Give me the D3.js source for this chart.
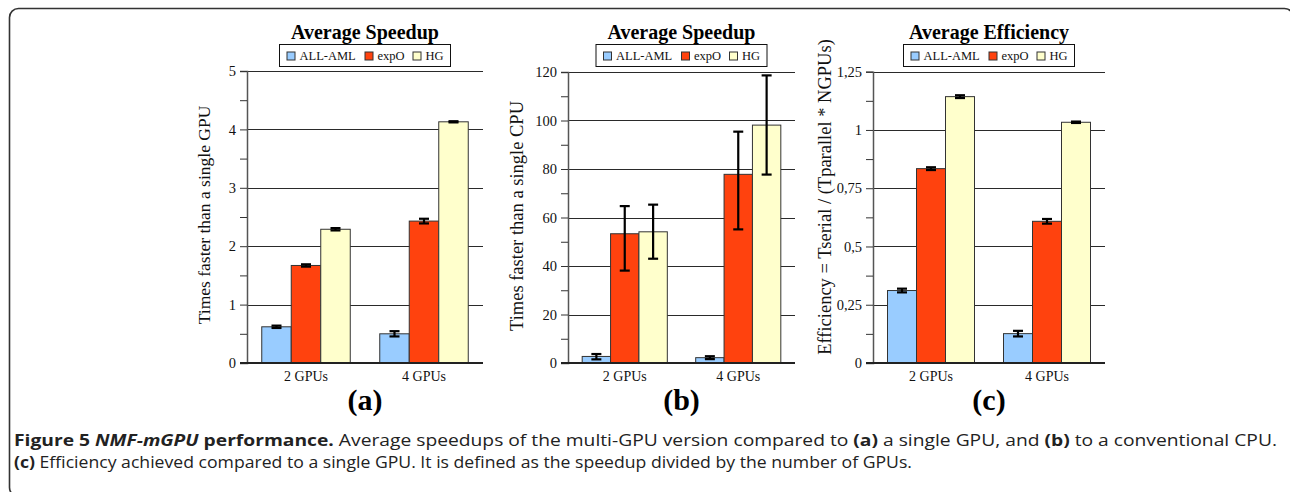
<!DOCTYPE html>
<html>
<head>
<meta charset="utf-8">
<script src="https://cdn.jsdelivr.net/npm/d3@7"></script>
<style>
  html, body { margin: 0; padding: 0; background: #fff; }
  svg { display: block; }
</style>
</head>
<body>
<div id="chart"></div>
<script>
// categories and series
var groups = ['2 GPUs', '4 GPUs']
var seriesNames = ['ALL-AML', 'expO', 'HG']
var seriesColors = ['#99ccff', '#ff420e', '#ffffcc']

// (a) speedup vs a single GPU
var gpuAllAml = [0.62, 0.50]
var gpuAllAmlErr = [0.02, 0.045]
var gpuExpO = [1.67, 2.43]
var gpuExpOErr = [0.02, 0.04]
var gpuHg = [2.29, 4.13]
var gpuHgErr = [0.02, 0.01]
var gpuTicks = [0, 1, 2, 3, 4, 5]
var gpuTickLabels = ['0', '1', '2', '3', '4', '5']

// (b) speedup vs a CPU (error bars are drawn a little uneven in the source)
var cpuAllAml = [2.7, 2.2]
var cpuAllAmlErrLo = [1.2, 0.6]
var cpuAllAmlErrHi = [1.0, 0.6]
var cpuExpO = [53.3, 77.8]
var cpuExpOErrLo = [15.2, 22.7]
var cpuExpOErrHi = [11.4, 17.6]
var cpuHg = [54.1, 98.1]
var cpuHgErrLo = [11.1, 20.4]
var cpuHgErrHi = [11.2, 20.5]
var cpuTicks = [0, 20, 40, 60, 80, 100, 120]
var cpuTickLabels = ['0', '20', '40', '60', '80', '100', '120']

// (c) efficiency
var effAllAml = [0.311, 0.126]
var effAllAmlErr = [0.008, 0.012]
var effExpO = [0.834, 0.608]
var effExpOErr = [0.006, 0.01]
var effHg = [1.143, 1.033]
var effHgErr = [0.006, 0.003]
var effTicks = [0, 0.25, 0.5, 0.75, 1, 1.25]
var effTickLabels = ['0', '0,25', '0,5', '0,75', '1', '1,25']

var width = 1290
var height = 492
var serif = '"Liberation Serif", "Times New Roman", serif'
var sans = '"Open Sans", "Noto Sans", sans-serif'

var svg = d3.select('#chart').append('svg')
  .attr('width', width)
  .attr('height', height)

// rounded frame round the whole figure
svg.append('rect')
  .attr('x', 9.5).attr('y', 8.5)
  .attr('width', 1284).attr('height', 488)
  .attr('rx', 9).attr('ry', 9)
  .attr('fill', 'none')
  .attr('stroke', '#333')
  .attr('stroke-width', 1.6)

function buildRows(vals, lo, hi) {
  // one row per group, one entry per series
  return groups.map(function(g, gi) {
    return seriesNames.map(function(s, si) {
      return { group: g, series: s, si: si, value: vals[si][gi], lo: lo[si][gi], hi: hi[si][gi] }
    })
  })
}

function drawPanel(opt) {
  var g = svg.append('g')

  var y = d3.scaleLinear().domain([0, opt.max]).range([opt.bottom, opt.top])
  var x0 = d3.scaleBand().domain(groups).range([opt.left, opt.right])
    .paddingInner(0.25).paddingOuter(0.125)
  var x1 = d3.scaleBand().domain(seriesNames).range([0, x0.bandwidth()])

  // grid lines
  g.selectAll('.grid').data(opt.ticks.filter(function(d) { return d > 0 }))
    .enter().append('line')
    .attr('x1', opt.left).attr('x2', opt.right)
    .attr('y1', function(d) { return Math.round(y(d)) + 0.5 })
    .attr('y2', function(d) { return Math.round(y(d)) + 0.5 })
    .attr('stroke', '#2a2a2a').attr('stroke-width', 1)

  // y axis with minor ticks
  var axis = d3.axisLeft(y)
    .tickValues(opt.ticks)
    .tickFormat(function(d, i) { return opt.tickLabels[i] })
    .tickSize(7).tickPadding(4)
  var ax = g.append('g').attr('transform', 'translate(' + opt.left + ',0)').call(axis)
  ax.attr('font-family', serif)
  ax.select('.domain').attr('stroke', '#555').attr('stroke-width', 1.5)
  ax.selectAll('.tick line').attr('stroke', '#333')
  ax.selectAll('.tick text')
    .attr('font-family', serif).attr('font-size', 14.5).attr('fill', '#111')

  var minor = d3.axisLeft(y).tickValues(opt.minor).tickFormat('').tickSize(7)
  var mx = g.append('g').attr('transform', 'translate(' + opt.left + ',0)').call(minor)
  mx.select('.domain').remove()
  mx.selectAll('.tick line').attr('stroke', '#333')

  // bars
  var rows = buildRows(opt.values, opt.lo, opt.hi)
  var grp = g.selectAll('.grp').data(rows).enter().append('g')
    .attr('transform', function(d, i) { return 'translate(' + x0(groups[i]) + ',0)' })

  grp.selectAll('rect').data(function(d) { return d }).enter().append('rect')
    .attr('x', function(d) { return x1(d.series) })
    .attr('width', x1.bandwidth())
    .attr('y', function(d) { return y(d.value) })
    .attr('height', function(d) { return y(0) - y(d.value) })
    .attr('fill', function(d) { return seriesColors[d.si] })
    .attr('stroke', '#333').attr('stroke-width', 1)

  // error bars
  var eb = grp.selectAll('.err').data(function(d) { return d }).enter().append('g')
  var cx = function(d) { return x1(d.series) + x1.bandwidth() / 2 }
  eb.append('line')
    .attr('x1', cx).attr('x2', cx)
    .attr('y1', function(d) { return y(d.value + d.hi) })
    .attr('y2', function(d) { return y(d.value - d.lo) })
    .attr('stroke', '#000').attr('stroke-width', 2.2)
  ;['hi', 'lo'].forEach(function(k) {
    eb.append('line')
      .attr('x1', function(d) { return cx(d) - 5 }).attr('x2', function(d) { return cx(d) + 5 })
      .attr('y1', function(d) { return y(k === 'hi' ? d.value + d.hi : d.value - d.lo) })
      .attr('y2', function(d) { return y(k === 'hi' ? d.value + d.hi : d.value - d.lo) })
      .attr('stroke', '#000').attr('stroke-width', 2.2)
  })

  // base line at zero
  g.append('line')
    .attr('x1', opt.left - 7).attr('x2', opt.right)
    .attr('y1', y(0)).attr('y2', y(0))
    .attr('stroke', '#222').attr('stroke-width', 1.8)

  // group labels
  g.selectAll('.xl').data(groups).enter().append('text')
    .attr('x', function(d) { return x0(d) + x0.bandwidth() / 2 })
    .attr('y', opt.bottom + 18)
    .attr('text-anchor', 'middle')
    .attr('font-family', serif).attr('font-size', 14).attr('fill', '#111')
    .text(function(d) { return d })

  var mid = (opt.left + opt.right) / 2

  // title
  g.append('text')
    .attr('x', mid).attr('y', 39)
    .attr('text-anchor', 'middle')
    .attr('font-family', serif).attr('font-size', 20).attr('font-weight', 'bold')
    .attr('fill', '#000')
    .text(opt.title)

  // legend
  var lw = 171
  var lx = mid - lw / 2
  var lg = g.append('g').attr('transform', 'translate(' + lx + ',44.5)')
  lg.append('rect').attr('width', lw).attr('height', 22)
    .attr('fill', '#fff').attr('stroke', '#111').attr('stroke-width', 1)
  var itemX = [7, 85, 133]
  seriesNames.forEach(function(s, i) {
    lg.append('rect')
      .attr('x', itemX[i] + 0.5).attr('y', 7.5).attr('width', 8).attr('height', 8)
      .attr('fill', seriesColors[i]).attr('stroke', '#333').attr('stroke-width', 1)
    lg.append('text')
      .attr('x', itemX[i] + 13).attr('y', 15.5)
      .attr('font-family', serif).attr('font-size', 12.5).attr('fill', '#111')
      .text(s)
  })

  // y axis title
  g.append('text')
    .attr('transform', 'translate(' + opt.ylabelX + ',' + opt.ylabelY + ') rotate(-90)')
    .attr('text-anchor', 'middle')
    .attr('font-family', serif).attr('font-size', opt.ylabelSize).attr('fill', '#111')
    .text(opt.ylabel)

  // panel letter
  g.append('text')
    .attr('x', mid).attr('y', 410)
    .attr('text-anchor', 'middle')
    .attr('font-family', serif).attr('font-size', 30).attr('font-weight', 'bold')
    .attr('fill', '#000')
    .text(opt.letter)
}

drawPanel({
  left: 247, right: 483, top: 71, bottom: 363, max: 5,
  ticks: gpuTicks, tickLabels: gpuTickLabels, minor: [0.5, 1.5, 2.5, 3.5, 4.5],
  values: [gpuAllAml, gpuExpO, gpuHg],
  lo: [gpuAllAmlErr, gpuExpOErr, gpuHgErr], hi: [gpuAllAmlErr, gpuExpOErr, gpuHgErr],
  title: 'Average Speedup', ylabel: 'Times faster than a single GPU',
  ylabelX: 210, ylabelY: 215, ylabelSize: 17.5, letter: '(a)'
})

drawPanel({
  left: 568, right: 795, top: 72, bottom: 363, max: 120,
  ticks: cpuTicks, tickLabels: cpuTickLabels, minor: [10, 30, 50, 70, 90, 110],
  values: [cpuAllAml, cpuExpO, cpuHg],
  lo: [cpuAllAmlErrLo, cpuExpOErrLo, cpuHgErrLo], hi: [cpuAllAmlErrHi, cpuExpOErrHi, cpuHgErrHi],
  title: 'Average Speedup', ylabel: 'Times faster than a single CPU',
  ylabelX: 523, ylabelY: 216, ylabelSize: 18.5, letter: '(b)'
})

drawPanel({
  left: 873, right: 1105, top: 71.7, bottom: 363, max: 1.25,
  ticks: effTicks, tickLabels: effTickLabels, minor: [0.125, 0.375, 0.625, 0.875, 1.125],
  values: [effAllAml, effExpO, effHg],
  lo: [effAllAmlErr, effExpOErr, effHgErr], hi: [effAllAmlErr, effExpOErr, effHgErr],
  title: 'Average Efficiency', ylabel: 'Efficiency = Tserial / (Tparallel * NGPUs)',
  ylabelX: 831, ylabelY: 197, ylabelSize: 18.5, letter: '(c)'
})

// caption
var cap1 = svg.append('text')
  .attr('x', 14).attr('y', 446)
  .attr('font-family', sans).attr('font-size', 15.5).attr('fill', '#222')
  .attr('textLength', 1263).attr('lengthAdjust', 'spacingAndGlyphs')
cap1.append('tspan').attr('font-weight', 'bold').text('Figure 5 ')
cap1.append('tspan').attr('font-weight', 'bold').attr('font-style', 'italic').text('NMF-mGPU')
cap1.append('tspan').attr('font-weight', 'bold').text(' performance.')
cap1.append('tspan').text(' Average speedups of the multi-GPU version compared to ')
cap1.append('tspan').attr('font-weight', 'bold').text('(a)')
cap1.append('tspan').text(' a single GPU, and ')
cap1.append('tspan').attr('font-weight', 'bold').text('(b)')
cap1.append('tspan').text(' to a conventional CPU.')

var cap2 = svg.append('text')
  .attr('x', 14).attr('y', 468)
  .attr('font-family', sans).attr('font-size', 15.5).attr('fill', '#222')
  .attr('textLength', 898).attr('lengthAdjust', 'spacingAndGlyphs')
cap2.append('tspan').attr('font-weight', 'bold').text('(c)')
cap2.append('tspan').text(' Efficiency achieved compared to a single GPU. It is defined as the speedup divided by the number of GPUs.')
</script>
</body>
</html>
